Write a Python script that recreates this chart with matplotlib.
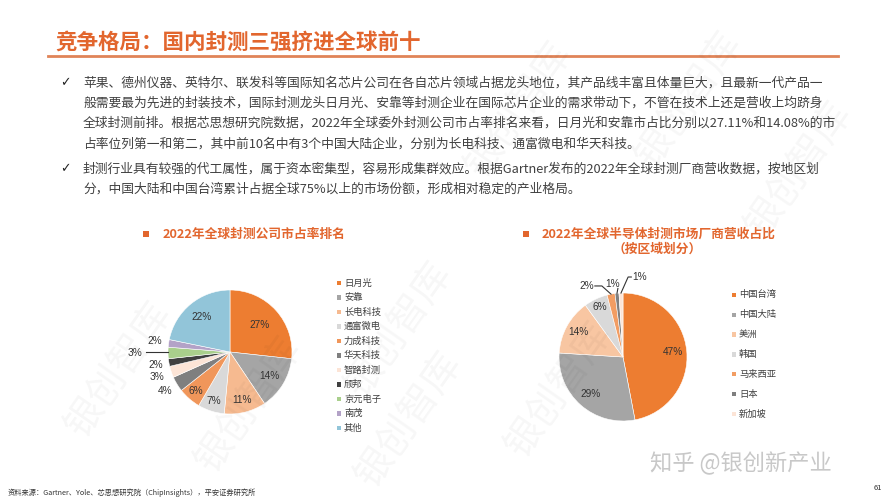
import numpy as np
import matplotlib
matplotlib.use("Agg")
import matplotlib.pyplot as plt
from matplotlib.patches import Rectangle
from matplotlib.lines import Line2D

plt.rcParams['font.family'] = ['Noto Sans CJK SC', 'DejaVu Sans']

# 数据
title = "竞争格局：国内封测三强挤进全球前十"
body1 = [
    "苹果、德州仪器、英特尔、联发科等国际知名芯片公司在各自芯片领域占据龙头地位，其产品线丰富且体量巨大，且最新一代产品一",
    "般需要最为先进的封装技术，国际封测龙头日月光、安靠等封测企业在国际芯片企业的需求带动下，不管在技术上还是营收上均跻身",
    "全球封测前排。根据芯思想研究院数据，2022年全球委外封测公司市占率排名来看，日月光和安靠市占比分别以27.11%和14.08%的市",
    "占率位列第一和第二，其中前10名中有3个中国大陆企业，分别为长电科技、通富微电和华天科技。",
]
body2 = [
    "封测行业具有较强的代工属性，属于资本密集型，容易形成集群效应。根据Gartner发布的2022年全球封测厂商营收数据，按地区划",
    "分，中国大陆和中国台湾累计占据全球75%以上的市场份额，形成相对稳定的产业格局。",
]

left_title = "2022年全球封测公司市占率排名"
companies = ["日月光", "安靠", "长电科技", "通富微电", "力成科技", "华天科技",
             "智路封测", "颀邦", "京元电子", "南茂", "其他"]
company_share = [27, 14, 11, 7, 6, 4, 3, 2, 3, 2, 22]
company_colors = ["#ED7D31", "#A5A5A5", "#F6BA90", "#D9D9D9", "#F0965A", "#7F7F7F",
                  "#FCE4D6", "#404040", "#A9CF8C", "#B3A2C7", "#92C5D9"]

right_title = "2022年全球半导体封测市场厂商营收占比"
right_sub = "（按区域划分）"
regions = ["中国台湾", "中国大陆", "美洲", "韩国", "马来西亚", "日本", "新加坡"]
region_share = [47, 29, 14, 6, 2, 1, 1]
region_colors = ["#ED7D31", "#A5A5A5", "#F8C6A2", "#D9D9D9", "#F29D63", "#7F7F7F", "#FCE4D6"]

source = "资料来源：Gartner、Yole、芯思想研究院（ChipInsights），平安证券研究所"

ORANGE = "#E2662E"
TXT = "#404040"

W, H = 888, 500
fig = plt.figure(figsize=(W / 100, H / 100), dpi=100)


def fx(x):
    return x / W


def fy(y):
    return 1 - y / H


# 水印
for (x, y) in [(120, 370), (400, 330), (410, 420), (560, 390), (520, 110),
               (690, 100), (800, 170), (250, 405)]:
    fig.text(fx(x), fy(y), "银创智库", fontsize=28, color="#000000", alpha=0.035,
             rotation=55, ha="center", va="center")

# 标题
fig.text(fx(55), fy(42), title, fontsize=15.5, fontweight="bold", color=ORANGE,
         ha="left", va="center")
fig.add_artist(Line2D([fx(48), fx(838)], [fy(56), fy(56)], color="#E08458", lw=2))

# 正文
for i, line in enumerate(body1):
    fig.text(fx(83), fy(83 + i * 20.3), line, fontsize=9.2, color=TXT, va="center")
for i, line in enumerate(body2):
    fig.text(fx(83), fy(169 + i * 20.3), line, fontsize=9.2, color=TXT, va="center")
for y in (83, 169):
    fig.text(fx(65), fy(y), "✓", fontsize=9, color="#222222", va="center", ha="center",
             family="DejaVu Sans")


def square(x, y, s, c):
    fig.add_artist(Rectangle((fx(x - s / 2), fy(y + s / 2)), s / W, s / H,
                             facecolor=c, edgecolor="none"))


# 小标题
square(146, 234, 6.5, ORANGE)
fig.text(fx(163), fy(234), left_title, fontsize=9.2, fontweight="bold", color=ORANGE, va="center")
square(526, 234, 6.5, ORANGE)
fig.text(fx(542), fy(234), right_title, fontsize=9.2, fontweight="bold", color=ORANGE, va="center")
fig.text(fx(657), fy(249), right_sub, fontsize=9.2, fontweight="bold", color=ORANGE,
         va="center", ha="center")


K = 2.0


def pie_axes(cx, cy, r):
    ax = fig.add_axes([fx(cx - K * r), fy(cy + K * r), 2 * K * r / W, 2 * K * r / H])
    ax.axis("off")
    return ax


def fix_limits(ax):
    ax.set_xlim(-K, K)
    ax.set_ylim(-K, K)


def mid(w):
    return np.deg2rad((w.theta1 + w.theta2) / 2)


# 左饼图
axl = pie_axes(230, 352, 62)
wl, _ = axl.pie(company_share, colors=company_colors, startangle=90, counterclock=False,
                radius=1, wedgeprops=dict(edgecolor="white", linewidth=0.4))
fix_limits(axl)
ldist = [0.65, 0.74, 0.8, 0.83, 0.83, 1.22, 1.25, 1.22, 1.53, 1.22, 0.73]
for w, v, d in zip(wl, company_share, ldist):
    t = mid(w)
    axl.text(d * np.cos(t), d * np.sin(t), f"{v}%", fontsize=7.3, color="#333333",
             ha="center", va="center", family="Liberation Sans")
t = mid(wl[8])
axl.plot([1.0 * np.cos(t), 1.35 * np.cos(t)], [0, 0], color="#333333", lw=0.8)

for i, (name, c) in enumerate(zip(companies, company_colors)):
    y = 283 + i * 14.5
    square(339, y, 4.5, c)
    fig.text(fx(344), fy(y), name, fontsize=6.7, color="#404040", va="center")

# 右饼图
axr = pie_axes(623, 357, 64)
wr, _ = axr.pie(region_share, colors=region_colors, startangle=90, counterclock=False,
                radius=1, wedgeprops=dict(edgecolor="white", linewidth=0.4))
fix_limits(axr)
rdist = [0.78, 0.77, 0.8, 0.86]
for w, v, d in zip(wr[:4], region_share[:4], rdist):
    t = mid(w)
    axr.text(d * np.cos(t), d * np.sin(t), f"{v}%", fontsize=7.3, color="#333333",
             ha="center", va="center", family="Liberation Sans")

# 小扇区标签和引线
small = [(4, (-0.57, 1.11), [(-0.44, 1.11), (-0.33, 1.11)]),
         (5, (-0.16, 1.14), [(-0.08, 1.07)]),
         (6, (0.26, 1.25), [(0.13, 1.25), (0.08, 1.25)])]
for idx, (lx, ly), pts in small:
    axr.text(lx, ly, f"{region_share[idx]}%", fontsize=7.3, color="#333333",
             ha="center", va="center", family="Liberation Sans")
    t = mid(wr[idx])
    xs = [p[0] for p in pts] + [np.cos(t)]
    ys = [p[1] for p in pts] + [np.sin(t)]
    axr.plot(xs, ys, color="#333333", lw=0.8)

for i, (name, c) in enumerate(zip(regions, region_colors)):
    y = 295 + i * 19.8
    square(734, y, 4.5, c)
    fig.text(fx(739), fy(y), name, fontsize=6.7, color="#404040", va="center")

# 底部
fig.text(fx(650), fy(463), "知乎 @银创新产业", fontsize=16, color="#C8C8C8", va="center")
fig.text(fx(8), fy(493), source, fontsize=5.2, color="#333333", va="center")
fig.text(fx(878), fy(488), "61", fontsize=5.5, color="#333333", va="center", ha="center")

fig.savefig("out.png", dpi=100)
